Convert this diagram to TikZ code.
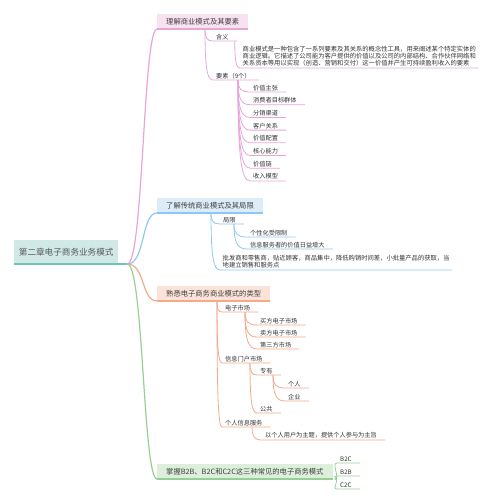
\documentclass[tikz,border=0pt]{standalone}
\usepackage{fontspec}
\setmainfont{Noto Sans CJK SC}
\usetikzlibrary{calc}
\definecolor{tealln}{HTML}{6CC4BE}
\definecolor{tealfill}{HTML}{D0E8E6}
\definecolor{pinkln}{HTML}{E8A6D6}
\definecolor{pinkfill}{HTML}{F8E2F0}
\definecolor{blueln}{HTML}{8EC8F0}
\definecolor{bluefill}{HTML}{DCECF9}
\definecolor{orangeln}{HTML}{F2A98C}
\definecolor{orangefill}{HTML}{FBE3D9}
\definecolor{greenln}{HTML}{96CF96}
\definecolor{greenfill}{HTML}{DDEFDB}
\newcommand\kidlink[3]{\draw[#1] (#2) .. controls ($(#2)!0.75!(#2|-#3.south west)$) and ($(#3.south west)!0.75!(#2|-#3.south west)$) .. (#3.south west) -- (#3.south east);}
\newcommand\sidelink[3]{\draw[#1] (#2) .. controls ($(#2)+(6,0)$) and ($(#3.south west)+(-6,0)$) .. (#3.south west) -- (#3.south east);}
\begin{document}
\begin{tikzpicture}[x=1pt,y=-1pt,
  rootbox/.style={fill=tealfill, anchor=south west, minimum width=104pt, minimum height=24pt, inner sep=0pt, font=\fontsize{8.6}{10}\selectfont, text=black!65},
  bbox/.style={fill=#1, anchor=south west, inner xsep=9pt, inner ysep=0pt, minimum height=15pt, font=\fontsize{7.3}{8.5}\selectfont, text=black!75},
  leaf/.style={anchor=south west, inner xsep=3pt, inner ysep=1.2pt, font=\fontsize{6.2}{7}\selectfont, text=black!80, execute at end node={\hspace{5pt}}},
  para/.style={anchor=south west, align=left, inner xsep=2.5pt, inner ysep=1.5pt, font=\fontsize{6.3}{7.3}\selectfont, text=black!80},
  mainln/.style={draw=#1, line width=1.2pt},
  subln/.style={draw=#1, line width=0.8pt},
  boxline/.style={draw=#1, line width=1.4pt}
]
\useasboundingbox (0,0) rectangle (500,503);

% root
\node[rootbox] (root) at (14,264) {第二章电子商务业务模式};
\coordinate (hub) at ([xshift=9pt]root.south east);

% branch boxes
\node[bbox=pinkfill] (b1) at (157,29) {理解商业模式及其要素};
\node[bbox=bluefill] (b2) at (157,213) {了解传统商业模式及其局限};
\node[bbox=orangefill] (b3) at (157,301) {熟悉电子商务商业模式的类型};
\node[bbox=greenfill] (b4) at (157,479) {掌握B2B、B2C和C2C这三种常见的电子商务模式};

\draw[mainln=pinkln] (hub) .. controls +(16,0) and +(-14,0) .. (b1.south west);
\draw[mainln=blueln] (hub) .. controls +(18,0) and +(-16,0) .. (b2.south west);
\draw[mainln=orangeln] (hub) .. controls +(18,0) and +(-16,0) .. (b3.south west);
\draw[mainln=greenln] (hub) .. controls +(16,0) and +(-14,0) .. (b4.south west);
\draw[line width=1.8pt, tealln] (root.south west) -- (hub);

\draw[boxline=pinkln] (b1.south west) -- (b1.south east);
\draw[boxline=blueln] (b2.south west) -- (b2.south east);
\draw[boxline=orangeln] (b3.south west) -- (b3.south east);
\draw[boxline=greenln] (b4.south west) -- (b4.south east);

% ---- branch 1
\coordinate (s1) at ([xshift=48pt]b1.south west);
\node[leaf] (han) at (213,41) {含义};
\kidlink{subln=pinkln}{s1}{han}
\coordinate (s1b) at ([xshift=-2pt]han.south east);
\node[para] (def) at (240,68) {商业模式是一种包含了一系列要素及其关系的概念性工具，用来阐述某个特定实体的\\商业逻辑。它描述了公司能为客户提供的价值以及公司的内部结构、合作伙伴网络和\\关系资本等用以实现（创造、营销和交付）这一价值并产生可持续盈利收入的要素};
\kidlink{subln=pinkln}{s1b}{def}
\node[leaf] (ys) at (213,80) {要素（9个）};
\kidlink{subln=pinkln}{s1}{ys}
\coordinate (s2) at ([xshift=25pt]ys.south west);
\node[leaf] (e1) at (250,92) {价值主张};
\node[leaf] (e2) at (250,104.7) {消费者目标群体};
\node[leaf] (e3) at (250,117.4) {分销渠道};
\node[leaf] (e4) at (250,130.1) {客户关系};
\node[leaf] (e5) at (250,142.8) {价值配置};
\node[leaf] (e6) at (250,155.5) {核心能力};
\node[leaf] (e7) at (250,168.2) {价值链};
\node[leaf] (e8) at (250,180.9) {收入模型};
\foreach \n in {e1,e2,e3,e4,e5,e6,e7,e8}{\kidlink{subln=pinkln}{s2}{\n}}

% ---- branch 2
\coordinate (t1) at ([xshift=54pt]b2.south west);
\node[leaf] (jx) at (220,224) {局限};
\kidlink{subln=blueln}{t1}{jx}
\coordinate (t2) at ([xshift=14pt]jx.south west);
\node[leaf] (g1) at (247,237) {个性化受限制};
\node[leaf] (g2) at (247,249) {信息服务者的价值日益增大};
\kidlink{subln=blueln}{t2}{g1}
\kidlink{subln=blueln}{t2}{g2}
\node[para] (pf) at (220,270) {批发商和零售商，贴近顾客，商品集中，降低购销时间差，小批量产品的获取，当\\地建立销售和服务点};
\kidlink{subln=blueln}{t1}{pf}

% ---- branch 3
\coordinate (u1) at ([xshift=60pt]b3.south west);
\node[leaf] (m1) at (222,312) {电子市场};
\coordinate (u2) at ([xshift=23pt]m1.south west);
\node[leaf] (m11) at (257,325) {买方电子市场};
\node[leaf] (m12) at (257,337) {卖方电子市场};
\node[leaf] (m13) at (257,349) {第三方市场};
\node[leaf] (m2) at (222,363) {信息门户市场};
\coordinate (u3) at ([xshift=28pt]m2.south west);
\node[leaf] (m21) at (257,375) {专有};
\coordinate (u4) at ([xshift=16pt]m21.south west);
\node[leaf] (m211) at (285,388) {个人};
\node[leaf] (m212) at (285,401) {企业};
\node[leaf] (m22) at (257,413) {公共};
\node[leaf] (m3) at (222,427) {个人信息服务};
\coordinate (u5) at ([xshift=30pt]m3.south west);
\node[leaf] (m31) at (262,440) {以个人用户为主题，提供个人参与为主旨};
\foreach \n in {m1,m2,m3}{\kidlink{subln=orangeln}{u1}{\n}}
\foreach \n in {m11,m12,m13}{\kidlink{subln=orangeln}{u2}{\n}}
\foreach \n in {m21,m22}{\kidlink{subln=orangeln}{u3}{\n}}
\foreach \n in {m211,m212}{\kidlink{subln=orangeln}{u4}{\n}}
\kidlink{subln=orangeln}{u5}{m31}

% ---- branch 4
\coordinate (v) at ([xshift=2pt]b4.south east);
\node[leaf] (k1) at (337,463) {B2C};
\node[leaf] (k2) at (337,476) {B2B};
\node[leaf] (k3) at (337,489) {C2C};
\foreach \n in {k1,k2,k3}{\sidelink{subln=greenln}{v}{\n}}
\end{tikzpicture}
\end{document}
